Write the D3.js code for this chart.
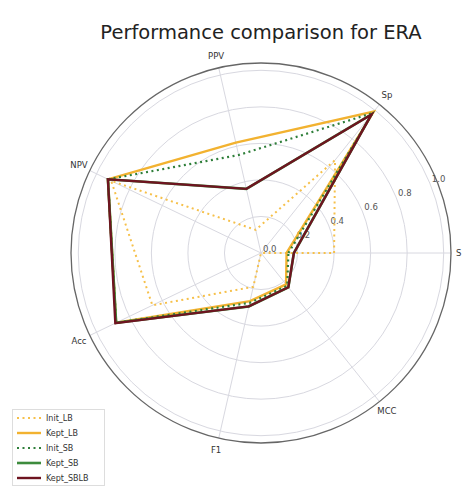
<!DOCTYPE html>
<html><head><meta charset="utf-8">
<script src="https://cdn.jsdelivr.net/npm/d3@7/dist/d3.min.js"></script>
<style>html,body{margin:0;padding:0;background:#fff;overflow:hidden}svg{display:block;font-family:"DejaVu Sans",sans-serif}</style>
</head><body><svg id="c" width="464" height="487"></svg>
<script>
const axesLabels = ["S","Sp","PPV","NPV","Acc","F1","MCC"];
const radialTicks = [0.0,0.2,0.4,0.6,0.8,1.0];
const seriesNames = ["Init_LB","Kept_LB","Init_SB","Kept_SB","Kept_SBLB"];
const Init_LB   = [0.40, 0.65, 0.13, 0.91, 0.66, 0.19, 0.00];
const Kept_LB   = [0.14, 0.99, 0.62, 0.93, 0.88, 0.27, 0.22];
const Init_SB   = [0.15, 0.98, 0.55, 0.93, 0.88, 0.28, 0.23];
const Kept_SB   = [0.18, 0.97, 0.36, 0.93, 0.88, 0.30, 0.24];
const Kept_SBLB = [0.18, 0.97, 0.36, 0.93, 0.885, 0.30, 0.24];
const seriesValues = [Init_LB, Kept_LB, Init_SB, Kept_SB, Kept_SBLB];

const styles = [
  {color:"#f6c04a", dash:"2,3.5", w:2},
  {color:"#f2b230", dash:null, w:2.4},
  {color:"#2f7f3a", dash:"2,3.5", w:2.2},
  {color:"#3d8b3d", dash:null, w:2.6},
  {color:"#6e1420", dash:null, w:2.4}
];

const svg = d3.select("#c");
const cx = 261, cy = 253;
const r = d3.scaleLinear().domain([0,1.04]).range([0,190]);
const ang = d3.scaleLinear().domain([0,axesLabels.length]).range([0,2*Math.PI]);
const px = (v,i)=> cx + r(v)*Math.cos(ang(i));
const py = (v,i)=> cy - r(v)*Math.sin(ang(i));

svg.append("text").attr("x",261).attr("y",39).attr("text-anchor","middle")
  .attr("font-size",19.5).attr("fill","#222").text("Performance comparison for ERA");

const g = svg.append("g");
radialTicks.filter(t=>t>0).forEach(t=>{
  g.append("circle").attr("cx",cx).attr("cy",cy).attr("r",r(t))
   .attr("fill","none").attr("stroke","#d8d8e0").attr("stroke-width",1);
});
axesLabels.forEach((a,i)=>{
  g.append("line").attr("x1",cx).attr("y1",cy).attr("x2",px(1.04,i)).attr("y2",py(1.04,i))
   .attr("stroke","#d8d8e0").attr("stroke-width",1);
});
g.append("circle").attr("cx",cx).attr("cy",cy).attr("r",r(1.04))
  .attr("fill","none").attr("stroke","#666").attr("stroke-width",1.3);

const la = Math.PI/8;
radialTicks.forEach(t=>{
  g.append("text").attr("x",cx + r(t)*Math.cos(la)+2).attr("y",cy - r(t)*Math.sin(la)-1)
   .attr("font-size",8.5).attr("fill","#555").text(t.toFixed(1));
});

const line = d3.lineRadial().angle((d,i)=>Math.PI/2 - ang(i)).radius(d=>r(d)).curve(d3.curveLinearClosed);
seriesValues.forEach((vals,k)=>{
  const s = styles[k];
  g.append("path").attr("transform",`translate(${cx},${cy})`)
   .attr("d", line(vals)).attr("fill","none").attr("stroke",s.color)
   .attr("stroke-width",s.w).attr("stroke-dasharray",s.dash).attr("stroke-linejoin","miter");
});

axesLabels.forEach((a,i)=>{
  const lr = 202;
  const x = cx + lr*Math.cos(ang(i)), y = cy - lr*Math.sin(ang(i));
  g.append("text").attr("x", i===0 ? 456 : x).attr("y",y+3)
   .attr("text-anchor", i===0 ? "start":"middle").attr("font-size",8.5).attr("fill","#333").text(a);
});

const lg = svg.append("g");
lg.append("rect").attr("x",12.5).attr("y",409.5).attr("width",92).attr("height",76)
  .attr("fill","#fff").attr("stroke","#ddd").attr("stroke-width",1);
seriesNames.forEach((n,k)=>{
  const y = 418 + k*15;
  const s = styles[k];
  lg.append("line").attr("x1",17).attr("x2",41).attr("y1",y).attr("y2",y)
    .attr("stroke",s.color).attr("stroke-width",s.w).attr("stroke-dasharray",s.dash);
  lg.append("text").attr("x",46).attr("y",y+3).attr("font-size",8).attr("fill","#333").text(n);
});
</script></body></html>
